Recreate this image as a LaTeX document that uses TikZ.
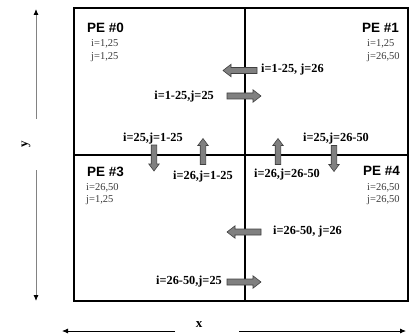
\documentclass[tikz,border=0pt]{standalone}
\usepackage{fontspec}
\setmainfont{Liberation Serif}
\newfontfamily\pesans{Liberation Sans}
\usetikzlibrary{arrows.meta}
\definecolor{arrowgray}{RGB}{128,128,128}
\definecolor{smallgray}{RGB}{60,60,60}
\definecolor{axisgray}{RGB}{130,130,130}
\tikzset{
  x=1pt, y=-1pt,
  frame/.style={line width=2pt, draw=black},
  pelabel/.style={font=\pesans\bfseries\fontsize{13.5}{15}\selectfont, inner sep=0pt},
  small/.style={font=\fontsize{10.5}{12}\selectfont, text=smallgray, inner sep=0pt, anchor=west},
  msg/.style={font=\bfseries\fontsize{12.3}{14}\selectfont, inner sep=0pt},
  axislabel/.style={font=\bfseries\fontsize{13}{15}\selectfont, inner sep=0pt},
  hbar/.pic={\draw[fill=arrowgray, draw=black!75, line width=0.6pt]
     (-17,-3) -- (9,-3) -- (9,-6.2) -- (17,0) -- (9,6.2) -- (9,3) -- (-17,3) -- cycle;},
  vbar/.pic={\draw[fill=arrowgray, draw=black!75, line width=0.6pt]
     (-13,-2.8) -- (6,-2.8) -- (6,-5.2) -- (13,0) -- (6,5.2) -- (6,2.8) -- (-13,2.8) -- cycle;},
}
\begin{document}
\begin{tikzpicture}
\useasboundingbox (0,0) rectangle (409,334);
% frame and dividers
\coordinate (tl) at (74,8);
\coordinate (br) at (408,301);
\coordinate (vt) at (245,8);
\coordinate (vb) at (245,301);
\coordinate (hl) at (74,155);
\coordinate (hr) at (408,155);
\draw[frame] (tl) rectangle (br);
\draw[frame] (vt) -- (vb);
\draw[frame] (hl) -- (hr);

% PE labels
\node[pelabel, anchor=west] (pe0) at (87,28) {PE \#0};
\node[small] (pe0i) at (91,44) {i=1,25};
\node[small] (pe0j) at (91,57) {j=1,25};
\node[pelabel, anchor=east] (pe1) at (399,28) {PE \#1};
\node[small] (pe1i) at (367,44) {i=1,25};
\node[small] (pe1j) at (367,57) {j=26,50};
\node[pelabel, anchor=west] (pe3) at (87,172) {PE \#3};
\node[small] (pe3i) at (86,188) {i=26,50};
\node[small] (pe3j) at (86,200) {j=1,25};
\node[pelabel, anchor=east] (pe4) at (400,171) {PE \#4};
\node[small] (pe4i) at (367,188) {i=26,50};
\node[small] (pe4j) at (367,200) {j=26,50};

% block arrows
\pic[rotate=180] at (240,70.5) {hbar};
\pic at (244,96) {hbar};
\pic[rotate=180] at (244,232) {hbar};
\pic at (244,282) {hbar};
\pic[rotate=-90] at (154,158) {vbar};
\pic[rotate=90] at (203,151.5) {vbar};
\pic[rotate=90] at (278,151.5) {vbar};
\pic[rotate=-90] at (334,158.5) {vbar};

% message labels
\node[msg, anchor=west] (m1) at (261,70) {i=1-25, j=26};
\node[msg, anchor=east] (m2) at (214,97) {i=1-25,j=25};
\node[msg, anchor=west] (m3) at (123,139) {i=25,j=1-25};
\node[msg, anchor=west] (m4) at (173,177) {i=26,j=1-25};
\node[msg, anchor=west] (m5) at (303,139) {i=25,j=26-50};
\node[msg, anchor=west] (m6) at (254,175) {i=26,j=26-50};
\node[msg, anchor=west] (m7) at (273,232) {i=26-50, j=26};
\node[msg, anchor=east] (m8) at (222,282) {i=26-50,j=25};

% axes
\node[axislabel, rotate=90] (ylab) at (26,144) {y};
\coordinate (ytopstart) at (36,119);
\coordinate (ytop) at (36,9);
\coordinate (ybotstart) at (36,170);
\coordinate (ybot) at (36,301);
\draw[axisgray, line width=0.9pt, -{Latex[black,length=6pt,width=5pt]}] (ytopstart) -- (ytop);
\draw[axisgray, line width=0.9pt, -{Latex[black,length=6pt,width=5pt]}] (ybotstart) -- (ybot);
\node[axislabel] (xlab) at (199,325) {x};
\coordinate (xlstart) at (175,331);
\coordinate (xleft) at (62,331);
\coordinate (xrstart) at (239,331);
\coordinate (xright) at (406,331);
\draw[line width=0.8pt, -{Latex[length=6pt,width=5pt]}] (xlstart) -- (xleft);
\draw[line width=0.8pt, -{Latex[length=6pt,width=5pt]}] (xrstart) -- (xright);
\end{tikzpicture}
\end{document}
